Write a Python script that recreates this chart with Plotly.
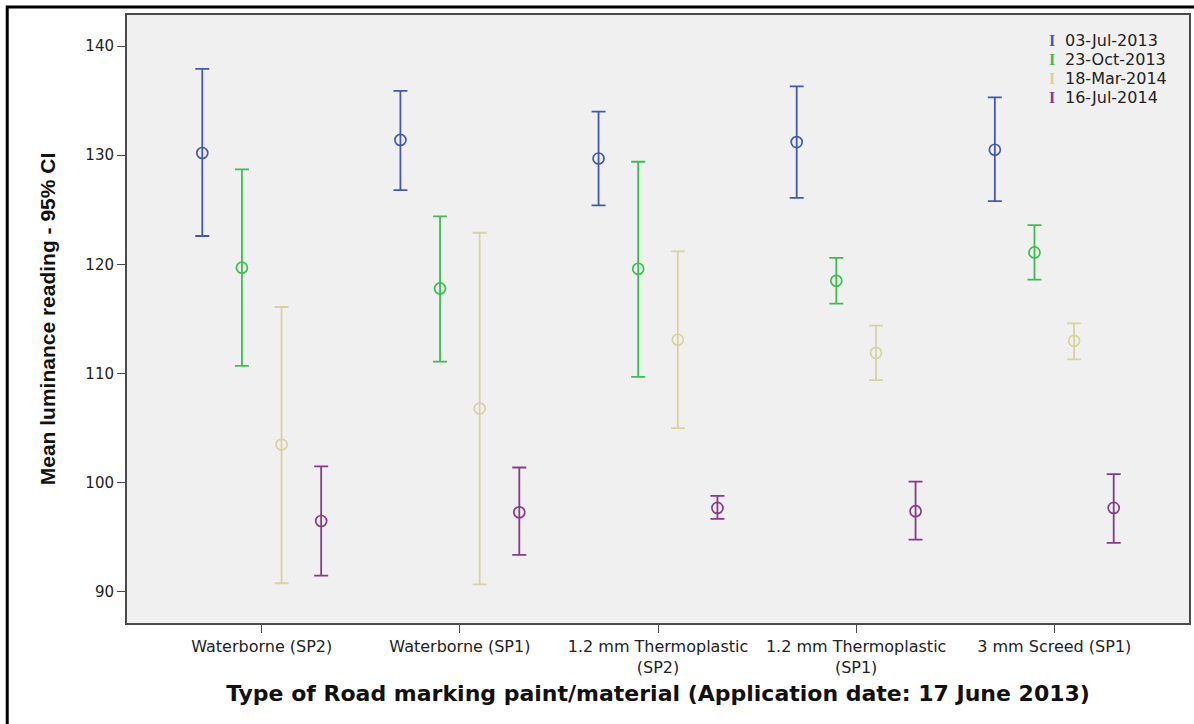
import plotly.graph_objects as go

categories = ["Waterborne (SP2)", "Waterborne (SP1)", "1.2 mm Thermoplastic<br>(SP2)",
              "1.2 mm Thermoplastic<br>(SP1)", "3 mm Screed (SP1)"]
series_names = ["03-Jul-2013", "23-Oct-2013", "18-Mar-2014", "16-Jul-2014"]
colors = ["#4258B4", "#38C04C", "#D9D29E", "#883A88"]

# means and 95% CI bounds, per series, per category
mean_jul13 = [130.2, 131.4, 129.7, 131.2, 130.5]
low_jul13 = [122.6, 126.8, 125.4, 126.1, 125.8]
high_jul13 = [137.9, 135.9, 134.0, 136.3, 135.3]

mean_oct13 = [119.7, 117.8, 119.6, 118.5, 121.1]
low_oct13 = [110.7, 111.1, 109.7, 116.4, 118.6]
high_oct13 = [128.7, 124.4, 129.4, 120.6, 123.6]

mean_mar14 = [103.5, 106.8, 113.1, 111.9, 113.0]
low_mar14 = [90.8, 90.7, 105.0, 109.4, 111.3]
high_mar14 = [116.1, 122.9, 121.2, 114.4, 114.6]

mean_jul14 = [96.5, 97.3, 97.7, 97.4, 97.7]
low_jul14 = [91.5, 93.4, 96.7, 94.8, 94.5]
high_jul14 = [101.5, 101.4, 98.8, 100.1, 100.8]

means = [mean_jul13, mean_oct13, mean_mar14, mean_jul14]
lows = [low_jul13, low_oct13, low_mar14, low_jul14]
highs = [high_jul13, high_oct13, high_mar14, high_jul14]
offsets = [-0.3, -0.1, 0.1, 0.3]

PL, PR, PT, PB = 127, 1191, 15, 623


def px_x(x):
    return (x - PL) / (PR - PL)


def px_y(y):
    return 1 - (y - PT) / (PB - PT)


fig = go.Figure()
for name, col, m, lo, hi, off in zip(series_names, colors, means, lows, highs, offsets):
    xs = [i + off for i in range(len(categories))]
    fig.add_trace(go.Scatter(
        x=xs, y=m, mode="markers", name=name, showlegend=False,
        marker=dict(symbol="circle-open", size=11, color=col, line=dict(width=1.7, color=col)),
        error_y=dict(type="data", symmetric=False,
                     array=[h - v for h, v in zip(hi, m)],
                     arrayminus=[v - l for v, l in zip(m, lo)],
                     color=col, thickness=1.8, width=7),
    ))

# legend drawn as text annotations with an "I" glyph
for k, (name, col) in enumerate(zip(series_names, colors)):
    yy = 40 + k * 19
    fig.add_annotation(xref="paper", yref="paper",
                       x=px_x(1054), y=px_y(yy),
                       text="<b>I</b>", showarrow=False, xanchor="center", yanchor="middle",
                       font=dict(family="Liberation Serif, DejaVu Serif", size=16, color=col))
    fig.add_annotation(xref="paper", yref="paper",
                       x=px_x(1065), y=px_y(yy),
                       text=name, showarrow=False, xanchor="left", yanchor="middle",
                       font=dict(family="DejaVu Sans", size=16, color="#222"))

# outer black frame
fig.add_shape(type="rect", xref="paper", yref="paper",
              x0=px_x(7), x1=px_x(1205), y0=px_y(735), y1=px_y(7),
              line=dict(color="black", width=3), fillcolor="rgba(0,0,0,0)", layer="below")

fig.update_layout(
    width=1194, height=724,
    margin=dict(l=PL, r=1194 - PR, t=PT, b=724 - PB),
    paper_bgcolor="white", plot_bgcolor="#F0F0F0",
    font=dict(family="DejaVu Sans", color="#222"),
    xaxis=dict(range=[-0.68, 4.68], tickvals=list(range(len(categories))), ticktext=categories,
               showgrid=False, zeroline=False, showline=True, mirror=True, linecolor="#4a4a4a",
               linewidth=2, ticks="outside", ticklen=8, tickcolor="#4a4a4a",
               tickfont=dict(family="DejaVu Sans", size=16, color="#222"),
               title=dict(text="<b>Type of Road marking paint/material (Application date: 17 June 2013)</b>",
                          font=dict(family="DejaVu Sans", size=22, color="#111"),
                          standoff=10)),
    yaxis=dict(range=[87.16, 142.84], tickvals=[90, 100, 110, 120, 130, 140],
               showgrid=False, zeroline=False, showline=True, mirror=True, linecolor="#4a4a4a",
               linewidth=2, ticks="outside", ticklen=8, tickcolor="#4a4a4a",
               tickfont=dict(family="DejaVu Sans", size=15, color="#222"),
               title=dict(text="<b>Mean luminance reading - 95% CI</b>",
                          font=dict(family="Liberation Sans, Arial", size=21, color="#111"),
                          standoff=24)),
)

fig.write_html("out.html", config={"displayModeBar": False},
               post_script="document.body.style.margin='0';")
